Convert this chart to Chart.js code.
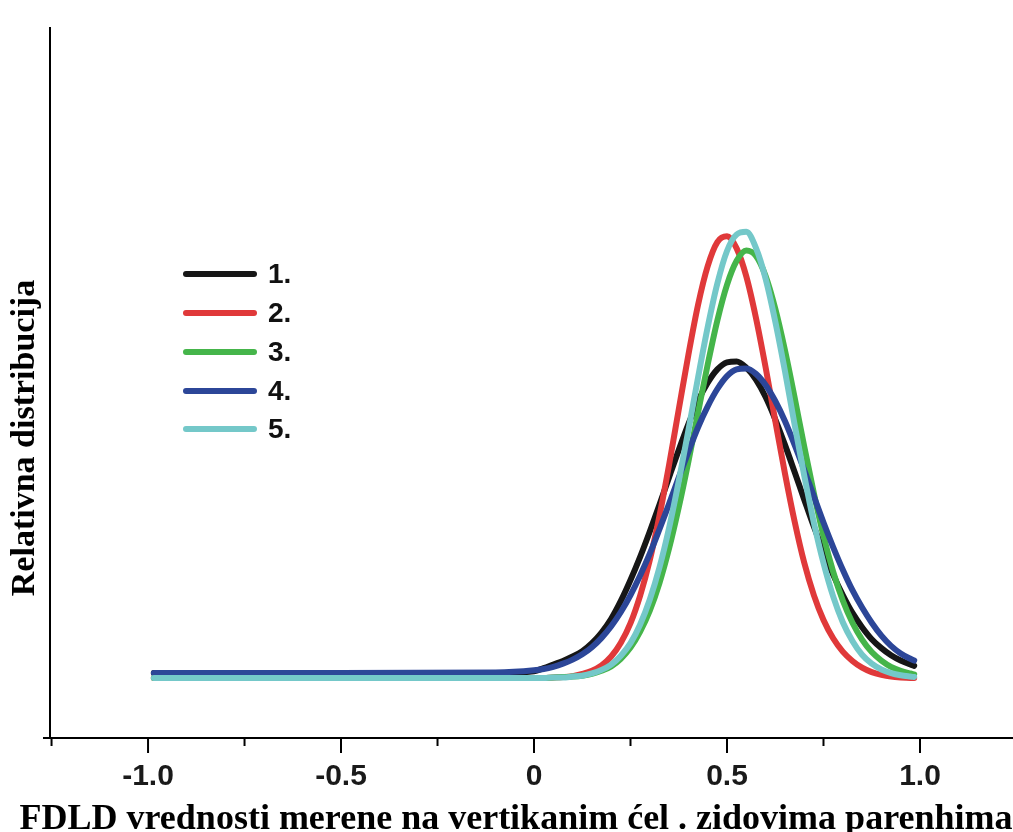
<!DOCTYPE html>
<html>
<head>
<meta charset="utf-8">
<script src="https://cdn.jsdelivr.net/npm/chart.js@4.4.1/dist/chart.umd.min.js"></script>
<style>
  html, body { margin: 0; padding: 0; background: #fff; }
  #wrap { width: 1013px; height: 832px; }
</style>
</head>
<body>
<div id="wrap"><canvas id="c" width="1013" height="832"></canvas></div>
<script>
// x positions (FDLD values) shared by all curves
const xValues = [-0.985, -0.5, -0.1,
  0, 0.025, 0.05, 0.075, 0.1, 0.125, 0.15, 0.175, 0.2, 0.225,
  0.25, 0.275, 0.3, 0.325, 0.35, 0.375, 0.4, 0.425, 0.45, 0.475,
  0.5, 0.525, 0.55, 0.575, 0.6, 0.625, 0.65, 0.675, 0.7, 0.725,
  0.75, 0.775, 0.8, 0.825, 0.85, 0.875, 0.9, 0.925, 0.95, 0.975,
  0.985];

const series1 = [1.1, 1.1, 1.1,
  1.5, 2.2, 3.0, 3.8, 4.8, 6.0, 7.8, 10.2, 13.3, 17.3,
  22.0, 27.2, 32.9, 38.9, 45.1, 51.2, 57.0, 62.2, 66.3, 69.3,
  70.9, 71.1, 69.7, 67.0, 63.1, 58.1, 52.4, 46.3, 40.1, 34.0,
  28.4, 23.2, 18.6, 14.6, 11.4, 8.7, 6.7, 5.1, 3.9, 3.0,
  2.7];
const series2 = [0, 0, 0,
  0.0, 0.0, 0.1, 0.2, 0.4, 0.9, 1.6, 2.8, 4.8, 7.9,
  12.3, 18.5, 26.5, 36.4, 47.9, 60.3, 72.6, 83.8, 92.5, 97.9,
  99.2, 96.5, 90.2, 80.9, 69.8, 57.8, 46.0, 35.2, 25.9, 18.6,
  13.0, 8.9, 5.9, 3.8, 2.3, 1.3, 0.7, 0.3, 0.1, 0.0,
  0.0];
const series3 = [0, 0, 0,
  0.0, 0.0, 0.1, 0.2, 0.3, 0.5, 0.9, 1.6, 2.6, 4.3,
  6.8, 10.4, 15.1, 21.3, 29.1, 38.3, 48.6, 59.6, 70.4, 80.3,
  88.3, 93.7, 96.0, 94.8, 90.3, 83.0, 73.7, 63.1, 52.0, 41.5,
  31.9, 23.9, 17.4, 12.4, 8.6, 5.8, 3.9, 2.5, 1.6, 1.0,
  0.8];
const series4 = [1.1, 1.1, 1.2,
  1.7, 2.0, 2.5, 3.2, 4.1, 5.3, 6.9, 9.0, 11.6, 14.8,
  18.6, 23.0, 27.9, 33.4, 39.1, 45.0, 50.8, 56.3, 61.0, 64.9,
  67.8, 69.3, 69.5, 68.3, 65.8, 62.2, 57.7, 52.4, 46.7, 40.8,
  34.9, 29.4, 24.3, 19.7, 15.8, 12.4, 9.5, 7.2, 5.5, 4.3,
  3.9];
const series5 = [0, 0, 0,
  0.0, 0.0, 0.1, 0.1, 0.3, 0.5, 1.0, 1.8, 3.0, 5.0,
  7.8, 12.0, 17.6, 24.8, 33.7, 44.2, 55.6, 67.5, 78.8, 88.6,
  95.9, 99.6, 100.2, 96.6, 89.7, 80.1, 69.0, 57.0, 45.5, 34.9,
  25.8, 18.3, 12.5, 8.3, 5.2, 3.2, 1.9, 1.1, 0.6, 0.3,
  0.2];

const seriesLabels = ['1.', '2.', '3.', '4.', '5.'];
const seriesColors = ['#161616', '#e0393a', '#45b54a', '#2c4698', '#74c8c9'];
const allSeries = [series1, series2, series3, series4, series5];

const xTicks = [-1.25, -1.0, -0.75, -0.5, -0.25, 0, 0.25, 0.5, 0.75, 1.0];

const xTitle = 'FDLD vrednosti merene na vertikanim ćel . zidovima parenhima';
const yTitle = 'Relativna distribucija';

const isMajor = v => Math.abs(v * 2 - Math.round(v * 2)) < 1e-6;

// ticks, legend and axis titles
const decor = {
  id: 'decor',
  afterDraw(chart) {
    const { ctx, chartArea, scales: { x, y } } = chart;
    ctx.save();
    ctx.strokeStyle = '#000';
    ctx.lineWidth = 2;
    x.ticks.forEach(t => {
      const px = x.getPixelForValue(t.value);
      ctx.beginPath();
      ctx.moveTo(px, chartArea.bottom);
      ctx.lineTo(px, chartArea.bottom + (isMajor(t.value) ? 15 : 8));
      ctx.stroke();
    });
    const py = y.getPixelForValue(y.min);
    ctx.beginPath();
    ctx.moveTo(chartArea.left - 7, py);
    ctx.lineTo(chartArea.left, py);
    ctx.stroke();

    // legend
    const legendY = [274, 313, 352, 391, 429];
    chart.data.datasets.forEach((ds, i) => {
      ctx.strokeStyle = ds.borderColor;
      ctx.lineWidth = 6;
      ctx.lineCap = 'round';
      ctx.beginPath();
      ctx.moveTo(186, legendY[i]);
      ctx.lineTo(254, legendY[i]);
      ctx.stroke();
      ctx.fillStyle = '#111';
      ctx.font = 'bold 28px "Liberation Sans", Arial, sans-serif';
      ctx.textBaseline = 'middle';
      ctx.textAlign = 'left';
      ctx.fillText(ds.label, 268, legendY[i] + 1);
    });

    // axis titles
    ctx.fillStyle = '#000';
    ctx.font = 'bold 36px "Liberation Serif", "Times New Roman", serif';
    ctx.textAlign = 'center';
    ctx.textBaseline = 'alphabetic';
    ctx.fillText(xTitle, 516, 829);
    ctx.font = 'bold 34px "Liberation Serif", "Times New Roman", serif';
    ctx.translate(34, 438);
    ctx.rotate(-Math.PI / 2);
    ctx.fillText(yTitle, 0, 0);
    ctx.restore();
  }
};

new Chart(document.getElementById('c'), {
  type: 'line',
  data: {
    datasets: allSeries.map((s, i) => ({
      label: seriesLabels[i],
      data: xValues.map((xv, j) => ({ x: xv, y: s[j] })),
      borderColor: seriesColors[i],
      borderWidth: 6,
      borderCapStyle: 'round',
      borderJoinStyle: 'round',
      pointRadius: 0,
      cubicInterpolationMode: 'monotone',
      fill: false,
      order: 5 - i
    }))
  },
  options: {
    responsive: false,
    animation: false,
    devicePixelRatio: 1,
    layout: { padding: { top: 28, left: 0, right: 0, bottom: 0 } },
    plugins: { legend: { display: false }, tooltip: { enabled: false } },
    scales: {
      x: {
        type: 'linear',
        min: -1.254,
        max: 1.241,
        afterFit: s => { s.height = 94; },
        afterBuildTicks: s => { s.ticks = xTicks.map(v => ({ value: v })); },
        grid: { display: false, drawTicks: false },
        border: { display: true, color: '#000', width: 2 },
        ticks: {
          padding: 21,
          color: '#1a1a1a',
          font: { family: '"Liberation Sans", Arial, sans-serif', size: 30, weight: 'bold' },
          maxRotation: 0,
          autoSkip: false,
          callback: v => isMajor(v) ? (v === 0 ? '0' : v.toFixed(1)) : ''
        }
      },
      y: {
        min: -13.5,
        max: 146,
        afterFit: s => { s.width = 50; },
        grid: { display: false, drawTicks: false },
        border: { display: true, color: '#000', width: 2 },
        ticks: { display: false }
      }
    }
  },
  plugins: [decor]
});
</script>
</body>
</html>
